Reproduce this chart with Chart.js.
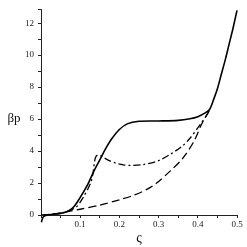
<!DOCTYPE html>
<html>
<head>
<meta charset="UTF-8">
<title>βp vs ς</title>
<style>
  html,body{margin:0;padding:0;background:#fff}
  #wrap{width:247px;height:247px}
</style>
</head>
<body>
<div id="wrap"><canvas id="chart" width="247" height="247"></canvas></div>
<script src="https://cdn.jsdelivr.net/npm/chart.js@4.4.0"></script>
<script>
/* ---------- data ---------- */
const solidX = [0.001,0.005,0.01,0.02,0.035,0.05,0.07,0.085,0.1,0.12,0.135,0.15,0.165,0.18,0.2,0.22,0.25,0.3,0.35,0.38,0.4,0.42,0.43,0.44,0.45,0.46,0.47,0.48,0.49,0.5];
const solidY = [-0.45,-0.15,-0.05,0.02,0.06,0.1,0.25,0.55,1.1,1.95,2.75,3.45,4.15,4.75,5.35,5.7,5.86,5.88,5.92,6.02,6.15,6.4,6.6,7.2,7.9,8.8,9.7,10.7,11.7,12.8];

const dashDotX = [0.03,0.05,0.06,0.075,0.09,0.1,0.11,0.12,0.128,0.133,0.136,0.139,0.144,0.15,0.158,0.17,0.19,0.21,0.23,0.26,0.3,0.33,0.36,0.38,0.4,0.42,0.43];
const dashDotY = [0.05,0.1,0.16,0.3,0.5,0.8,1.2,1.65,2.1,2.65,3.25,3.6,3.74,3.73,3.62,3.45,3.25,3.14,3.1,3.15,3.4,3.8,4.3,4.8,5.45,6.15,6.55];

const dashedX = [0.0,0.03,0.065,0.1,0.15,0.2,0.235,0.27,0.295,0.33,0.36,0.39,0.41,0.43];
const dashedY = [0.0,0.06,0.2,0.36,0.62,0.95,1.22,1.6,2.0,2.76,3.5,4.6,5.7,6.55];

const xLabels = ['0.1','0.2','0.3','0.4','0.5'];
const yLabels = ['0','2','4','6','8','10','12'];

const pts = (xs, ys) => xs.map((x, i) => ({x, y: ys[i]}));

/* ---------- axis titles (horizontal βp, ς below) ---------- */
const titles = {
  id: 'titles',
  afterDraw(chart){
    const c = chart.ctx, a = chart.chartArea;
    c.save();
    c.fillStyle = '#111';
    c.font = '13px "Liberation Serif"';
    c.textAlign = 'center'; c.textBaseline = 'middle';
    c.fillText('βp', 14, chart.scales.y.getPixelForValue(6));
    c.font = '14px "Liberation Serif"';
    c.fillText('ς', (a.left + a.right) / 2, 238);
    c.restore();
  }
};

const tickFont = {family: 'Liberation Serif', size: 9};

new Chart(document.getElementById('chart'), {
  type: 'scatter',
  data: {
    datasets: [
      {data: pts(solidX, solidY), borderColor: '#000', borderWidth: 1.6, clip: false, order: 0},
      {data: pts(dashDotX, dashDotY), borderColor: '#000', borderWidth: 1.3, borderDash: [7,3,2,3], order: 1},
      {data: pts(dashedX, dashedY), borderColor: '#000', borderWidth: 1.3, borderDash: [8,4], order: 2}
    ].map(d => Object.assign(d, {showLine: true, pointRadius: 0, tension: 0.3}))
  },
  options: {
    responsive: false,
    animation: false,
    layout: {padding: {left: 0, right: 10, top: 5, bottom: 0}},
    plugins: {legend: {display: false}, tooltip: {enabled: false}},
    scales: {
      x: {
        type: 'linear', min: 0, max: 0.5,
        afterFit(s){ s.height = 32; },
        border: {color: '#222', width: 1},
        grid: {drawOnChartArea: false, tickLength: 3, color: '#222'},
        ticks: {
          stepSize: 0.05, color: '#222', font: tickFont, padding: 1, maxRotation: 0,
          callback(v){
            const k = Math.round(v * 100);
            return (k > 0 && k % 10 === 0) ? xLabels[k / 10 - 1] : '';
          }
        }
      },
      y: {
        type: 'linear', min: 0, max: 12.86,
        afterFit(s){ s.width = 41; },
        border: {color: '#222', width: 1},
        grid: {drawOnChartArea: false, tickLength: 3, color: '#222'},
        ticks: {
          stepSize: 1, color: '#222', font: tickFont, padding: 4,
          callback(v){
            const k = Math.round(v);
            return (k % 2 === 0) ? yLabels[k / 2] : '';
          }
        }
      }
    }
  },
  plugins: [titles]
});
</script>
</body>
</html>
